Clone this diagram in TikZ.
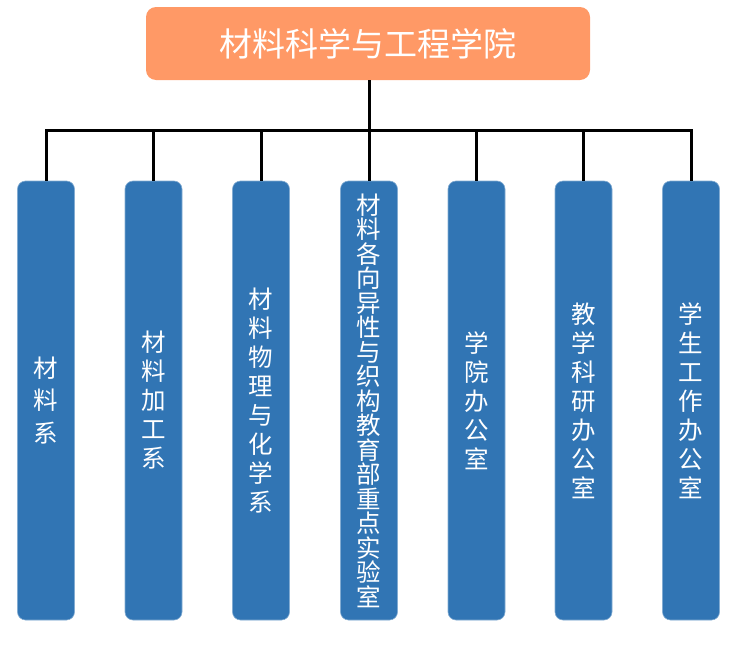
\documentclass[tikz,border=0pt]{standalone}
\usepackage{fontspec}
\setmainfont{Noto Sans CJK SC}
\definecolor{topor}{HTML}{FF9966}
\definecolor{deptblue}{HTML}{3175B4}
\begin{document}
\begin{tikzpicture}[x=1pt,y=-1pt,
  topbox/.style={fill=topor,rounded corners=10pt,text=white,font=\fontsize{33}{36}\selectfont},
  dept/.style={fill=deptblue,draw=deptblue!60!white,line width=0.6pt,rounded corners=8pt,minimum width=57pt,minimum height=439pt,text=white,align=center,inner sep=0pt,font=\fontsize{24.5}{29}\selectfont},
  deptwide/.style={dept,font=\fontsize{24.5}{32.5}\selectfont},
  deptdense/.style={dept,font=\fontsize{24.5}{24.5}\selectfont},
  link/.style={line width=3pt,black}]
\useasboundingbox (0,0) rectangle (753,648);
\node[topbox,minimum width=444pt,minimum height=73pt] (top) at (368,43.5) {材料科学与工程学院};
\node[deptwide] (d1) at (46,400.5) {材\\料\\系};
\node[dept] (d2) at (153.5,400.5) {材\\料\\加\\工\\系};
\node[dept] (d3) at (261,400.5) {材\\料\\物\\理\\与\\化\\学\\系};
\node[deptdense] (d4) at (369,400.5) {材\\料\\各\\向\\异\\性\\与\\织\\构\\教\\育\\部\\重\\点\\实\\验\\室};
\node[dept] (d5) at (476.5,400.5) {学\\院\\办\\公\\室};
\node[dept] (d6) at (583.5,400.5) {教\\学\\科\\研\\办\\公\\室};
\node[dept] (d7) at (691,400.5) {学\\生\\工\\作\\办\\公\\室};
\coordinate (bus) at (369,130);
\draw[link] (top.south -| bus) -- (bus);
\draw[link,line cap=rect] (d1.north |- bus) -- (d7.north |- bus);
\foreach \d in {d1,d2,d3,d4,d5,d6,d7}
  \draw[link] (\d.north |- bus) -- (\d.north);
\end{tikzpicture}
\end{document}
